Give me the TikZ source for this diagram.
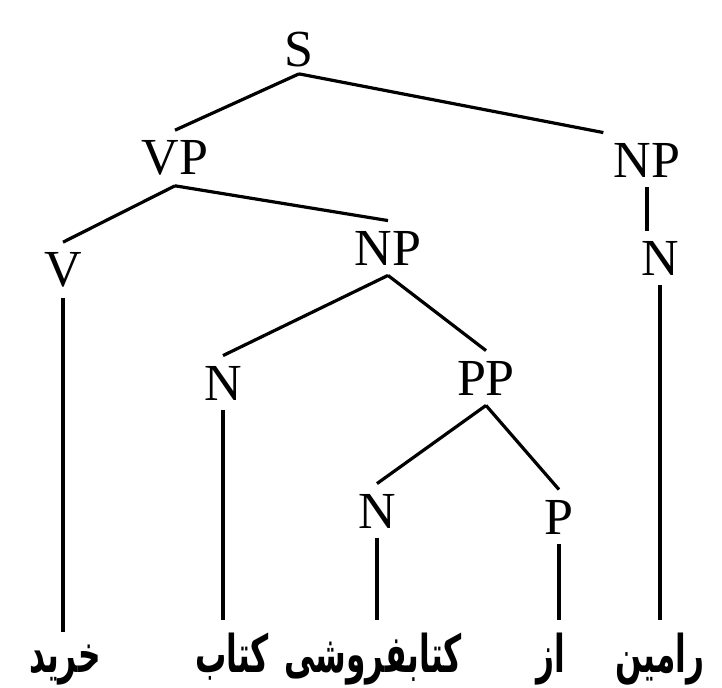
\documentclass[tikz,border=0pt]{standalone}
\usepackage{fontspec}
\setmainfont{Liberation Serif}
\newfontfamily\arabicfont[Script=Arabic,FakeStretch=0.6]{DejaVu Sans}
\TeXXeTstate=1
\begin{document}
\begin{tikzpicture}[x=0.5pt,y=-0.5pt,
  cat/.style={font=\fontsize{26}{30}\selectfont,inner sep=5pt},
  word/.style={font=\fontsize{26}{30}\selectfont\arabicfont\bfseries,anchor=base,inner xsep=2pt,inner ysep=6pt},
  branch/.style={line width=1.6pt}]
\useasboundingbox (0,0) rectangle (722,688);
% categories
\node[cat,inner sep=3pt] (s) at (299,50) {S};
\node[cat] (vp) at (175,158) {VP};
\node[cat] (npr) at (647,160) {NP};
\node[cat] (v) at (63,270) {V};
\node[cat] (npm) at (388,248) {NP};
\node[cat] (nr) at (660,258) {N};
\node[cat] (na) at (223,383) {N};
\node[cat] (pp) at (486,378) {PP};
\node[cat] (nb) at (377,511) {N};
\node[cat] (p) at (559,517) {P};
% words
\node[word] (kharid) at (65,672) {\beginR خرید\endR};
\node[word] (ketab) at (232,672) {\beginR کتاب\endR};
\node[word] (forushi) at (373,672) {\beginR کتابفروشی\endR};
\node[word] (az) at (551,672) {\beginR از\endR};
\node[word] (ramin) at (660,672) {\beginR رامین\endR};
% branches
\draw[branch] (s.south) -- (vp.north);
\draw[branch] (s.south) -- (npr.north west);
\draw[branch] (vp.south) -- (v.north);
\draw[branch] (vp.south) -- (npm.north);
\draw[branch] (npr.south) -- (npr.south |- nr.north);
\draw[branch] (npm.south) -- (na.north);
\draw[branch] (npm.south) -- (pp.north);
\draw[branch] (pp.south) -- (nb.north);
\draw[branch] (pp.south) -- (p.north);
\draw[branch] (v.south) -- (v.south |- kharid.north);
\draw[branch] (na.south) -- (na.south |- ketab.north);
\draw[branch] (nb.south) -- (nb.south |- forushi.north);
\draw[branch] (p.south) -- (p.south |- az.north);
\draw[branch] (nr.south) -- (nr.south |- ramin.north);
\end{tikzpicture}
\end{document}
